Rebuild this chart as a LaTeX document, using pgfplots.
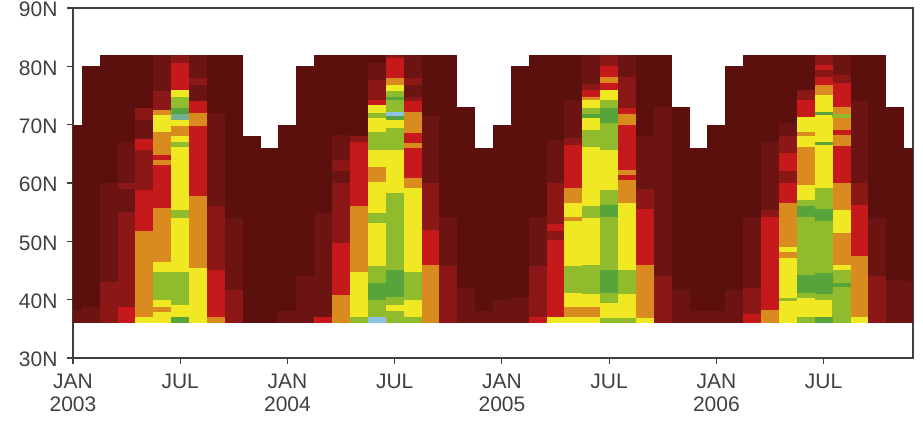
\documentclass[border=0pt]{standalone}
\usepackage{fontspec}
\setmainfont{Liberation Sans}
\usepackage{pgfplots}
\usepackage{pgfplotstable}
\pgfplotsset{compat=1.18}

% colour classes of the monthly latitude bins
\definecolor{cA}{HTML}{5C100E}% background maroon
\definecolor{cB}{HTML}{6C1411}% dark red
\definecolor{cC}{HTML}{8B1717}% medium dark red
\definecolor{cR}{HTML}{C5191C}% red
\definecolor{cO}{HTML}{D98B20}% orange
\definecolor{cY}{HTML}{F0E823}% yellow
\definecolor{cL}{HTML}{8FBB2C}% light green
\definecolor{cG}{HTML}{57A43B}% green
\definecolor{cU}{HTML}{8CC3E3}% light blue
\definecolor{cT}{HTML}{76AE90}% teal

\newlength{\colw}\setlength{\colw}{18.1pt}

% month index (0 = Jan 2003), lower and upper latitude of each segment
\pgfplotstableread{
m lo hi
0 36 70
1 36 80
2 36 82
3 36 82
4 36 82
5 36 82
6 36 82
7 36 82
8 36 82
9 36 82
10 36 68
11 36 66
12 36 70
13 36 80
14 36 82
15 36 82
16 36 82
17 36 82
18 36 82
19 36 82
20 36 82
21 36 82
22 36 73
23 36 66
24 36 70
25 36 80
26 36 82
27 36 82
28 36 82
29 36 82
30 36 82
31 36 82
32 36 82
33 36 82
34 36 73
35 36 66
36 36 70
37 36 80
38 36 82
39 36 82
40 36 82
41 36 82
42 36 82
43 36 82
44 36 82
45 36 82
46 36 73
47 36 66
}\segA

\pgfplotstableread{
m lo hi
0 36 38
1 36 38.8
2 43 60
3 60 67
3 55 59
4 67.5 70.8
5 75.7 82
7 78 82
7 74 76.8
8 56 72
9 41.7 54
12 36 38
13 36 44
14 37.1 54.8
15 63.9 68.2
15 60 62
17 77.7 80.5
19 78 82
19 74.8 76.8
20 60 71.4
21 45.7 54.2
22 36 42
23 36 38
24 36 40
25 36 40.5
26 45.7 54.2
27 60 67.4
28 67.7 74.2
29 77 82
31 78.2 82
32 59 68
33 44 73
34 36 41.6
35 36 38
36 36 38
37 36 41.7
38 42 54.2
39 55.4 67.1
40 68 70.2
43 78.5 82
44 60 74
45 44 54
46 36 43.4
47 36 43
}\segB

\pgfplotstableread{
m lo hi
2 36 43
3 59 60
3 38.8 55
4 70.8 72.8
4 58.8 65.7
5 72.5 75.7
6 80.5 82
7 76.8 78
8 45 56
9 36 41.7
15 62 63.9
15 49.7 60
16 67 68
17 74.2 77.7
18 81.4 82
19 76.8 78
19 74 74.8
20 52 60
21 36 45.7
26 37 45.7
27 53 60
27 50.2 51.7
28 66.5 67.7
29 76 77
30 80 82
31 72.8 78.2
32 55.5 59
33 36 44
38 37.5 42
39 54.2 55.4
40 65.1 68
40 60 62
41 74.2 76
42 80.2 82
42 78.2 79.4
43 77.1 78.5
44 56.2 60
45 36 44
}\segC

\pgfplotstableread{
m lo hi
3 36 38.8
4 65.7 67.5
4 51.7 58.8
5 63.9 64.8
5 55.7 63.1
6 76 80.5
7 72 74
7 57.8 69.7
8 37 45
14 36 37.1
15 40.8 49.7
16 56 67
17 73.4 74.2
18 78 81.4
19 72.2 74
19 66.8 68.5
19 60.8 66
20 46 52
26 36 37
27 51.7 53
27 37 50.2
28 59.1 66.5
29 74.8 76
30 78.2 80
30 76 77.1
31 71.9 72.8
31 62.2 69.9
31 60.5 61.4
32 45.9 55.5
38 36 37.5
39 38.2 54.2
40 62 65.1
40 56.5 60
41 71.3 74.2
42 79.4 80.2
42 76.8 78.2
43 73 77.1
43 68.3 69.1
43 60 66.3
44 47.5 56.2
}\segR

\pgfplotstableread{
m lo hi
4 37.1 51.7
5 71.7 72.5
5 64.8 68.8
5 63.1 63.9
5 46.5 55.7
5 37.9 38.8
6 68 69.7
7 69.7 72
7 45.5 57.8
8 36 37
15 36 40.8
16 44.8 56
17 60.2 62.8
18 76.8 78
19 68.5 72.2
19 66 66.8
19 59.1 60.8
20 36 46
28 56.5 59.1
28 53.4 54.2
28 37.1 38.8
29 74.2 74.8
29 37.1 38.8
30 77.1 78.2
31 69.9 71.9
31 61.4 62.2
31 56.5 60.5
32 36.8 45.9
39 36 38.2
40 49.1 56.5
40 47.1 48.2
41 68 68.8
41 59.7 66.2
42 75.1 76.8
43 71.9 73
43 69.1 71.1
43 66.3 68.3
43 55.4 60
43 46 51.4
44 37 47.5
}\segO

\pgfplotstableread{
m lo hi
4 36 37.1
5 68.8 71.7
5 44.8 46.5
5 38.8 39.9
5 36 37.9
6 74.8 76
6 69.7 70.8
6 67.1 68
6 55.4 66.2
6 44.7 54
6 37.1 39
7 36 45.5
16 37 44.8
17 72 73.4
17 68.8 71.1
17 62.8 65.7
17 54.8 60.2
17 45.7 53.1
18 75.7 76.8
18 69.4 70.8
18 58.2 65.7
18 38 39.1
19 44.8 59.1
19 37.1 40
27 36 37
28 54.2 56.5
28 45.7 53.4
28 38.8 41.1
28 36 37.1
29 72.8 74.2
29 69.1 71.1
29 56 66.2
29 46 54
29 38.8 41
29 36 37.1
30 74.2 76
30 58.8 65.7
30 36.8 39.4
31 45.1 56.5
31 36.8 41
32 36 36.8
40 48.2 49.1
40 40.2 47.1
40 36 39.7
41 68.8 71.3
41 66.2 68
41 57 59.7
41 37 40.3
42 72.2 75.1
42 67.1 71.7
42 59.1 66.5
42 37.1 40
43 51.4 55.4
43 45.1 46
44 36 37
}\segY

\pgfplotstableread{
m lo hi
5 39.9 44.8
6 72.8 74.8
6 66.2 67.1
6 54 55.4
6 39 44.7
16 36 37
17 71.1 72
17 65.7 68.8
17 53.1 54.8
17 42.8 45.7
17 37.1 40
18 74.8 75.7
18 72.2 74.2
18 65.7 69.4
18 45.1 58.2
18 39.1 40.5
18 36 38
19 40 44.8
19 36 37.1
28 41.1 45.7
29 71.9 72.8
29 66.2 69.1
29 54 56
29 41 46
30 72.8 74.2
30 65.7 70.2
30 56.2 58.8
30 45.1 54.2
30 39.4 41.1
30 36 36.8
31 41 45.1
31 36 36.8
40 39.7 40.2
41 56 57
41 44.3 54.2
41 40.3 41.1
41 36 37
42 55.5 59.1
42 44.5 53.5
42 40 41
43 71.1 71.9
43 42.8 45.1
43 36 42.2
}\segL

\pgfplotstableread{
m lo hi
6 71.9 72.8
6 36 37.1
17 40 42.8
18 74.2 74.8
18 70.8 71.4
18 40.5 45.1
29 71.1 71.9
30 70.2 72.8
30 54.2 56.2
30 41.1 45.1
41 54.2 56
41 41.1 44.3
42 71.7 72.2
42 66.5 67.1
42 53.5 55.5
42 41 44.5
42 36 37.1
43 42.2 42.8
}\segG

\pgfplotstableread{
m lo hi
17 36 37.1
18 71.4 72.2
}\segU

\pgfplotstableread{
m lo hi
6 70.8 71.9
}\segT

% one vertical strip per segment, one month wide
\newcommand\segplot[2]{%
  \addplot[forget plot, draw=none, no markers,
    error bars/.cd, y dir=plus, y explicit, error mark=none,
    error bar style={draw=#1, line width=\colw, line cap=butt}]
    table[x=m, y=lo, y error plus expr=\thisrow{hi}-\thisrow{lo}] {#2};}

\begin{document}
\begin{tikzpicture}
\useasboundingbox (-73pt,-67pt) rectangle (850pt,358pt);
\begin{axis}[
  at={(0,0)}, anchor=south west,
  x=17.872pt, y=5.8333pt,
  xmin=0, xmax=47, ymin=30, ymax=90,
  axis line style={draw=black!75, line width=1.2pt},
  tick align=outside, tick pos=left,
  major tick length=6pt,
  tick style={draw=black!75, line width=1.1pt},
  xtick={0,6,...,42},
  xticklabels={{JAN\\2003},JUL,{JAN\\2004},JUL,{JAN\\2005},JUL,{JAN\\2006},JUL},
  ytick={30,40,...,90},
  yticklabels={30N,40N,50N,60N,70N,80N,90N},
  tick label style={font=\fontsize{21}{23}\selectfont, text=black!75},
  xticklabel style={align=center, yshift=-7pt},
  yticklabel style={xshift=-6pt, yshift=-1.5pt},
  clip=true,
]
\segplot{cA}{\segA}
\segplot{cB}{\segB}
\segplot{cC}{\segC}
\segplot{cR}{\segR}
\segplot{cO}{\segO}
\segplot{cY}{\segY}
\segplot{cL}{\segL}
\segplot{cG}{\segG}
\segplot{cU}{\segU}
\segplot{cT}{\segT}
\end{axis}
\end{tikzpicture}
\end{document}
